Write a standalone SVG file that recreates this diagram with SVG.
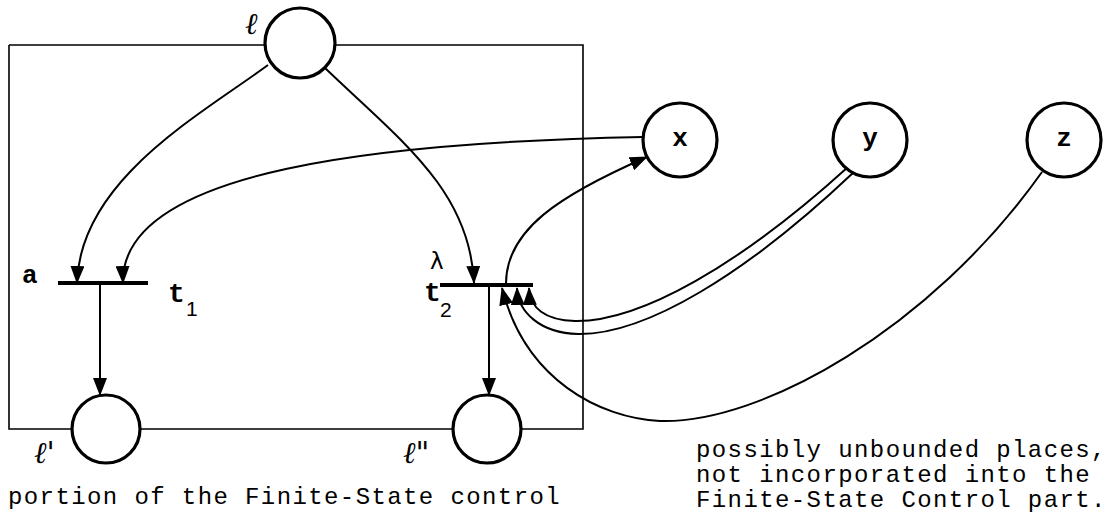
<svg xmlns="http://www.w3.org/2000/svg" width="1110" height="529" viewBox="0 0 1110 529">
<defs>
<style>
.place{fill:#fff;stroke:#000;stroke-width:3.2}
.box{fill:none;stroke:#000;stroke-width:1.6}
.arc{fill:none;stroke:#000;stroke-width:2}
.bar{stroke:#000;stroke-width:4}
.tw{font-family:"Liberation Mono",monospace;font-size:24px;letter-spacing:1.4px;fill:#000}
.lbl{font-family:"Liberation Mono",monospace;font-size:26px;font-weight:bold;fill:#000}
.ell{font-family:"DejaVu Serif",serif;font-style:italic;font-size:30px;fill:#000}
.ts{font-family:"Liberation Mono",monospace;font-size:28px;font-weight:bold;fill:#000}
.sub{font-family:"Liberation Sans",sans-serif;font-size:21px;fill:#000}
.gr{font-family:"DejaVu Sans",sans-serif;font-size:23px;fill:#000}
</style>
<marker id="ah" markerUnits="userSpaceOnUse" markerWidth="18" markerHeight="14" refX="17" refY="7" orient="auto">
<path d="M0,0 L18,7 L0,14 z" fill="#000"/>
</marker>
</defs>
<rect width="1110" height="529" fill="#fff"/>
<g id="fsc-box">
<polyline class="box" points="9,45 583,45 583,429 9,429 9,45"/>
</g>
<g id="connectors">
<path class="arc" d="M268,65 C200,115 80,180 77,283" marker-end="url(#ah)"/>
<path class="arc" d="M643,137 C390,142 120,168 123,283" marker-end="url(#ah)"/>
<path class="arc" d="M325,68 C400,140 470,190 474,283" marker-end="url(#ah)"/>
<path class="arc" d="M100,285 L100,395" marker-end="url(#ah)"/>
<path class="arc" d="M489,287 L489,395" marker-end="url(#ah)"/>
<path class="arc" d="M506,285 C505,230 560,195 647,157" marker-end="url(#ah)"/>
<path class="arc" d="M848,167 C740,265 640,322 575,321 C545,320 530,308 529,288" marker-end="url(#ah)"/>
<path class="arc" d="M854,172 C745,275 645,335 578,334 C540,333 518,312 517,288" marker-end="url(#ah)"/>
<path class="arc" d="M1042,172 C930,330 760,424 660,421 C600,418 525,380 502,288" marker-end="url(#ah)"/>
</g>
<g id="place-l">
<circle class="place" cx="300" cy="43" r="35"/>
<text class="ell" x="245" y="34">ℓ</text>
</g>
<g id="place-l1">
<circle class="place" cx="106" cy="429" r="34"/>
<text class="ell" x="34" y="463">ℓ'</text>
</g>
<g id="place-l2">
<circle class="place" cx="487" cy="429" r="34"/>
<text class="ell" x="403" y="463">ℓ"</text>
</g>
<g id="place-x">
<circle class="place" cx="680" cy="140" r="37"/>
<text class="lbl" x="680" y="146" text-anchor="middle">x</text>
</g>
<g id="place-y">
<circle class="place" cx="870" cy="140" r="37"/>
<text class="lbl" x="870" y="146" text-anchor="middle">y</text>
</g>
<g id="place-z">
<circle class="place" cx="1064" cy="140" r="37"/>
<text class="lbl" x="1064" y="146" text-anchor="middle">z</text>
</g>
<g id="trans-t1">
<line class="bar" x1="58" y1="283" x2="148" y2="283"/>
<text class="lbl" x="22" y="283">a</text>
<text class="ts" x="168" y="302">t</text>
<text class="sub" x="186" y="316">1</text>
</g>
<g id="trans-t2">
<line class="bar" x1="440" y1="285" x2="533" y2="285"/>
<text class="gr" x="430" y="269">λ</text>
<text class="ts" x="424" y="301">t</text>
<text class="sub" x="440" y="317">2</text>
</g>
<g id="captions">
<text class="tw" x="8" y="504">portion of the Finite-State control</text>
<text class="tw" x="696" y="457">possibly unbounded places,</text>
<text class="tw" x="696" y="482">not incorporated into the</text>
<text class="tw" x="696" y="507">Finite-State Control part.</text>
</g>
</svg>
